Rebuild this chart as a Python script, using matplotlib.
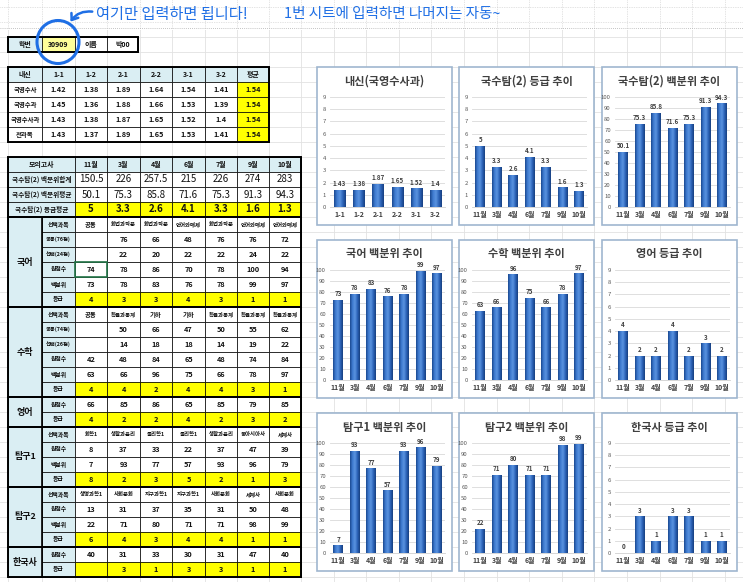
import numpy as np
import matplotlib.pyplot as plt
from matplotlib.patches import Rectangle, Ellipse, FancyArrowPatch
from matplotlib.colors import LinearSegmentedColormap

plt.rcParams['font.family'] = ['Noto Sans CJK KR', 'DejaVu Sans']

# ---- data ----
student_id = '30909'
student_name = '박00'

terms = ['1-1', '1-2', '2-1', '2-2', '3-1', '3-2']
naesin_rows = ['국영수사', '국영수과', '국영수사과', '전과목']
naesin_vals = [[1.42, 1.38, 1.89, 1.64, 1.54, 1.41],
               [1.45, 1.36, 1.88, 1.66, 1.53, 1.39],
               [1.43, 1.38, 1.87, 1.65, 1.52, 1.4],
               [1.43, 1.37, 1.89, 1.65, 1.53, 1.41]]
naesin_avg = [1.54, 1.54, 1.54, 1.54]

months = ['11월', '3월', '4월', '6월', '7월', '9월', '10월']
sum_pct = [150.5, 226, 257.5, 215, 226, 274, 283]
avg_pct = [50.1, 75.3, 85.8, 71.6, 75.3, 91.3, 94.3]
avg_grade = [5, 3.3, 2.6, 4.1, 3.3, 1.6, 1.3]

kor_choice = ['공통', '화법과작문', '화법과작문', '언어와매체', '화법과작문', '언어와매체', '언어와매체']
kor_common = [None, 76, 66, 48, 76, 76, 72]
kor_select = [None, 22, 20, 22, 22, 24, 22]
kor_raw = [74, 78, 86, 70, 78, 100, 94]
kor_pct = [73, 78, 83, 76, 78, 99, 97]
kor_grade = [4, 3, 3, 4, 3, 1, 1]

math_choice = ['공통', '확률과통계', '기하', '기하', '확률과통계', '확률과통계', '확률과통계']
math_common = [None, 50, 66, 47, 50, 55, 62]
math_select = [None, 14, 18, 18, 14, 19, 22]
math_raw = [42, 48, 84, 65, 48, 74, 84]
math_pct = [63, 66, 96, 75, 66, 78, 97]
math_grade = [4, 4, 2, 4, 4, 3, 1]

eng_raw = [66, 85, 86, 65, 85, 79, 85]
eng_grade = [4, 2, 2, 4, 2, 3, 2]

t1_choice = ['화학1', '생활과윤리', '물리학1', '물리학1', '생활과윤리', '동아시아사', '세계사']
t1_raw = [8, 37, 33, 22, 37, 47, 39]
t1_pct = [7, 93, 77, 57, 93, 96, 79]
t1_grade = [8, 2, 3, 5, 2, 1, 3]

t2_choice = ['생명과학1', '사회문화', '지구과학1', '지구과학1', '사회문화', '세계사', '사회문화']
t2_raw = [13, 31, 37, 35, 31, 50, 48]
t2_pct = [22, 71, 80, 71, 71, 98, 99]
t2_grade = [6, 4, 3, 4, 4, 1, 1]

hist_raw = [40, 31, 33, 30, 31, 47, 40]
hist_grade = [None, 3, 1, 3, 3, 1, 1]

groups = [
    ('국어', [('선택과목', kor_choice), ('공통(76점)', kor_common), ('선택(24점)', kor_select),
             ('원점수', kor_raw), ('백분위', kor_pct), ('등급', kor_grade)]),
    ('수학', [('선택과목', math_choice), ('공통(74점)', math_common), ('선택(26점)', math_select),
             ('원점수', math_raw), ('백분위', math_pct), ('등급', math_grade)]),
    ('영어', [('원점수', eng_raw), ('등급', eng_grade)]),
    ('탐구1', [('선택과목', t1_choice), ('원점수', t1_raw), ('백분위', t1_pct), ('등급', t1_grade)]),
    ('탐구2', [('선택과목', t2_choice), ('원점수', t2_raw), ('백분위', t2_pct), ('등급', t2_grade)]),
    ('한국사', [('원점수', hist_raw), ('등급', hist_grade)]),
]

charts = [
    ('내신(국영수사과)', terms, naesin_vals[2], 9),
    ('국수탐(2) 등급 추이', months, avg_grade, 9),
    ('국수탐(2) 백분위 추이', months, avg_pct, 100),
    ('국어 백분위 추이', months, kor_pct, 100),
    ('수학 백분위 추이', months, math_pct, 100),
    ('영어 등급 추이', months, eng_grade, 9),
    ('탐구1 백분위 추이', months, t1_pct, 100),
    ('탐구2 백분위 추이', months, t2_pct, 100),
    ('한국사 등급 추이', months, [v or 0 for v in hist_grade], 9),
]

W, H = 743, 582
BLUE = '#daeef3'
YEL = '#ffff00'

fig = plt.figure(figsize=(W / 100, H / 100), dpi=100)
bg = fig.add_axes([0, 0, 1, 1])
bg.set_xlim(0, W)
bg.set_ylim(H, 0)
bg.axis('off')

# spreadsheet grid
colx = [8, 42, 75, 107, 140, 172, 205, 237, 269, 301]
while colx[-1] < W:
    colx.append(colx[-1] + 32.6)
for x in colx:
    bg.plot([x, x], [0, 30], color='#c8c8c8', lw=0.5, ls=(0, (1, 1.5)), zorder=0)
    bg.plot([x, x], [30, H], color='#e2e2e2', lw=0.6, zorder=0)
for y in np.arange(7, H, 15):
    if y < 30:
        bg.plot([0, W], [y, y], color='#c8c8c8', lw=0.5, ls=(0, (1, 1.5)), zorder=0)
    else:
        bg.plot([0, W], [y, y], color='#e2e2e2', lw=0.6, zorder=0)
bg.plot([0, W], [28, 28], color='#b0b0b0', lw=0.6, ls=(0, (1, 1.5)), zorder=0)


def cell(x0, x1, y0, y1, text='', fc='white', fs=5.5, bold=True, lw=0.5):
    bg.add_patch(Rectangle((x0, y0), x1 - x0, y1 - y0, facecolor=fc,
                           edgecolor='black', lw=lw, zorder=2))
    if text != '':
        bg.text((x0 + x1) / 2, (y0 + y1) / 2, text, ha='center', va='center',
                fontsize=fs, fontweight='bold' if bold else 'normal',
                color='#111111', zorder=3)


def box(x0, x1, y0, y1, lw=1.4):
    bg.add_patch(Rectangle((x0, y0), x1 - x0, y1 - y0, facecolor='none',
                           edgecolor='black', lw=lw, zorder=4))


def fmt(v):
    if v is None:
        return ''
    if isinstance(v, str):
        return v
    return f'{v:g}'


RH = 15
# table 1
t1y = 37
cell(colx[0], colx[1], t1y, t1y + RH, '학번', BLUE, 5)
cell(colx[1], colx[2], t1y, t1y + RH, student_id, '#ffff99', 5)
cell(colx[2], colx[3], t1y, t1y + RH, '이름', 'white', 5)
cell(colx[3], colx[4] - 2, t1y, t1y + RH, student_name, 'white', 5)
box(colx[0], colx[4] - 2, t1y, t1y + RH)

# table 2 (내신)
t2y = 67
cell(colx[0], colx[1], t2y, t2y + RH, '내신', BLUE, 5)
for j, t in enumerate(terms):
    cell(colx[j + 1], colx[j + 2], t2y, t2y + RH, t, BLUE, 5)
cell(colx[7], colx[8], t2y, t2y + RH, '평균', BLUE, 5)
for i, name in enumerate(naesin_rows):
    y0 = t2y + RH * (i + 1)
    cell(colx[0], colx[1], y0, y0 + RH, name, 'white', 4.6)
    for j, v in enumerate(naesin_vals[i]):
        cell(colx[j + 1], colx[j + 2], y0, y0 + RH, fmt(v), 'white', 5.3)
    cell(colx[7], colx[8], y0, y0 + RH, fmt(naesin_avg[i]), YEL, 5.3)
box(colx[0], colx[8], t2y, t2y + RH * 5)

# table 3 (모의고사)
t3y = 157
cell(colx[0], colx[2], t3y, t3y + RH, '모의고사', BLUE, 5)
for j, m in enumerate(months):
    cell(colx[j + 2], colx[j + 3], t3y, t3y + RH, m, BLUE, 5)
summary = [('국수탐(2) 백분위합계', sum_pct, 'white', False),
           ('국수탐(2) 백분위평균', avg_pct, 'white', False),
           ('국수탐(2) 등급평균', avg_grade, YEL, True)]
for i, (name, vals, fc, bold) in enumerate(summary):
    y0 = t3y + RH * (i + 1)
    cell(colx[0], colx[2], y0, y0 + RH, name, BLUE, 4.8)
    for j, v in enumerate(vals):
        cell(colx[j + 2], colx[j + 3], y0, y0 + RH, fmt(v), fc, 7, bold)
box(colx[0], colx[9], t3y, t3y + RH * 4)

row = 4
for gname, rows in groups:
    gy0 = t3y + RH * row
    gy1 = gy0 + RH * len(rows)
    cell(colx[0], colx[1], gy0, gy1, gname, BLUE, 6.5)
    for label, vals in rows:
        y0 = t3y + RH * row
        cell(colx[1], colx[2], y0, y0 + RH, label, BLUE, 4.2 if len(label) <= 4 else 3.8)
        fc = YEL if label == '등급' else 'white'
        for j, v in enumerate(vals):
            fs = 3.9 if isinstance(v, str) else 5.3
            if isinstance(v, str) and len(v) <= 2:
                fs = 4.6
            cell(colx[j + 2], colx[j + 3], y0, y0 + RH, fmt(v), fc, fs)
        row += 1
    box(colx[0], colx[9], gy0, gy1)
    bg.plot([colx[1], colx[1]], [gy0, gy1], color='black', lw=1.2, zorder=4)

# spreadsheet selection around 국어 원점수 11월
sel_y = t3y + RH * 7
bg.add_patch(Rectangle((colx[2], sel_y), colx[3] - colx[2], RH, facecolor='none',
                       edgecolor='#217346', lw=1.2, zorder=5))

# handwritten note
note_c = '#1f6fe5'
bg.text(96, 14, '여기만 입력하면 됩니다!', fontsize=11, color=note_c, ha='left', va='center', zorder=6)
bg.text(284, 14, '1번 시트에 입력하면 나머지는 자동~', fontsize=10.5, color=note_c, ha='left', va='center', zorder=6)
bg.add_patch(Ellipse((58, 42), 42, 43, facecolor='none', edgecolor=note_c, lw=2.2, zorder=6))
bg.add_patch(FancyArrowPatch((95, 12), (69, 24), connectionstyle='arc3,rad=0.35',
                             arrowstyle='->,head_length=4,head_width=3', color=note_c,
                             lw=1.8, zorder=6))

# charts
frames = [(317, 67), (459, 67), (602, 67),
          (317, 240), (459, 240), (602, 240),
          (317, 413), (459, 413), (602, 413)]
FW, FH = 135, 158
bar_cmap = LinearSegmentedColormap.from_list(
    'bar', ['#1a4890', '#3f7bd0', '#5a93df', '#2c63b8', '#173f80'])
grad = np.linspace(0, 1, 64)[None, :]

for (title, cats, vals, ymax), (fx, fy) in zip(charts, frames):
    bg.add_patch(Rectangle((fx, fy), FW, FH, facecolor='white', edgecolor='#9fb6cf',
                           lw=1.2, zorder=2))
    bg.text(fx + FW / 2, fy + 14, title, ha='center', va='center', fontsize=8,
            color='#404040', fontweight='bold', zorder=3)
    left, right, top, bottom = fx + 13, fx + 128, fy + 30, fy + 140
    ax = fig.add_axes([left / W, 1 - bottom / H, (right - left) / W, (bottom - top) / H])
    ax.set_facecolor('none')
    x = np.arange(len(cats))
    bars = ax.bar(x, vals, width=0.58, color='#2e64b8', zorder=3)
    for b in bars:
        bx, bw, bh = b.get_x(), b.get_width(), b.get_height()
        if bh > 0:
            im = ax.imshow(grad, extent=(bx, bx + bw, 0, bh), cmap=bar_cmap,
                           aspect='auto', zorder=3.5)
            im.set_clip_path(b)
    step = 1 if ymax == 9 else 10
    ax.set_xlim(-0.5, len(cats) - 0.5)
    ax.set_ylim(0, ymax)
    ax.set_yticks(np.arange(0, ymax + step, step))
    ax.grid(axis='y', color='#d9d9d9', lw=0.6, zorder=0)
    ax.set_axisbelow(True)
    for s in ['top', 'right', 'left']:
        ax.spines[s].set_visible(False)
    ax.spines['bottom'].set_color('#d0d0d0')
    ax.spines['bottom'].set_linewidth(0.6)
    ax.tick_params(length=0, pad=3)
    ax.tick_params(axis='y', labelsize=4.3, labelcolor='#595959')
    ax.tick_params(axis='x', labelsize=5, labelcolor='#404040')
    ax.set_xticks(x)
    ax.set_xticklabels(cats)
    for lab in ax.get_xticklabels():
        lab.set_fontweight('bold')
    for xi, v in zip(x, vals):
        ax.text(xi, v + ymax * 0.025, fmt(v), ha='center', va='bottom', fontsize=4.5,
                color='#404040', fontweight='bold', zorder=5)

fig.savefig('out.png', dpi=100)
